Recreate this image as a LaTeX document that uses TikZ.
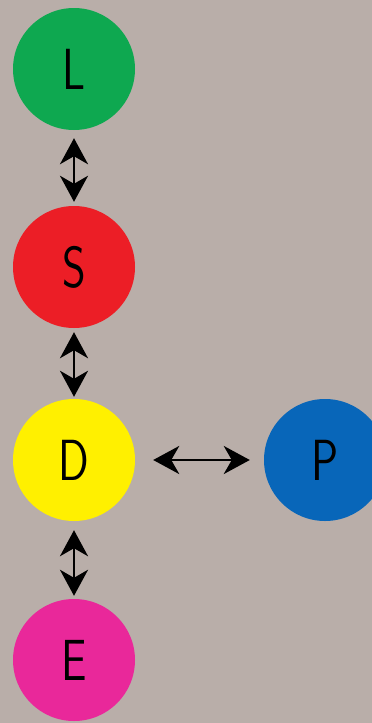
\documentclass[tikz,border=0pt]{standalone}
\usetikzlibrary{arrows.meta}
\definecolor{bg}{RGB}{185,174,169}
\definecolor{cgreen}{RGB}{14,168,80}
\definecolor{cred}{RGB}{236,30,38}
\definecolor{cyellow}{RGB}{255,240,0}
\definecolor{cblue}{RGB}{8,102,185}
\definecolor{cpink}{RGB}{233,40,154}
\tikzset{
  ball/.style={circle, minimum size=122pt, inner sep=0pt, text=black,
    font=\sffamily\fontsize{58}{58}\selectfont},
  link/.style={line width=2.8pt, {Stealth[length=26pt,width=28pt,inset=8pt]}-{Stealth[length=26pt,width=28pt,inset=8pt]}}
}
\newcommand{\thinletter}[1]{\scalebox{0.78}[1]{#1}}
\begin{document}
\begin{tikzpicture}[x=1pt,y=-1pt]
\clip (0,0) rectangle (372,723);
\fill[bg] (0,0) rectangle (372,723);
\node[ball, fill=cgreen] (L) at (74,69) {\thinletter{L}};
\node[ball, fill=cred] (S) at (74,267) {\thinletter{S}};
\node[ball, fill=cyellow] (D) at (74,460) {\thinletter{D}};
\node[ball, fill=cblue] (P) at (325,460) {\thinletter{P}};
\node[ball, fill=cpink] (E) at (74,660) {\thinletter{E}};
\draw[link, shorten <=8pt, shorten >=4pt] (L) -- (S);
\draw[link, shorten <=4pt, shorten >=2pt] (S) -- (D);
\draw[link, shorten <=9pt, shorten >=3pt] (D) -- (E);
\draw[link, shorten <=18pt, shorten >=14pt] (D) -- (P);
\end{tikzpicture}
\end{document}
